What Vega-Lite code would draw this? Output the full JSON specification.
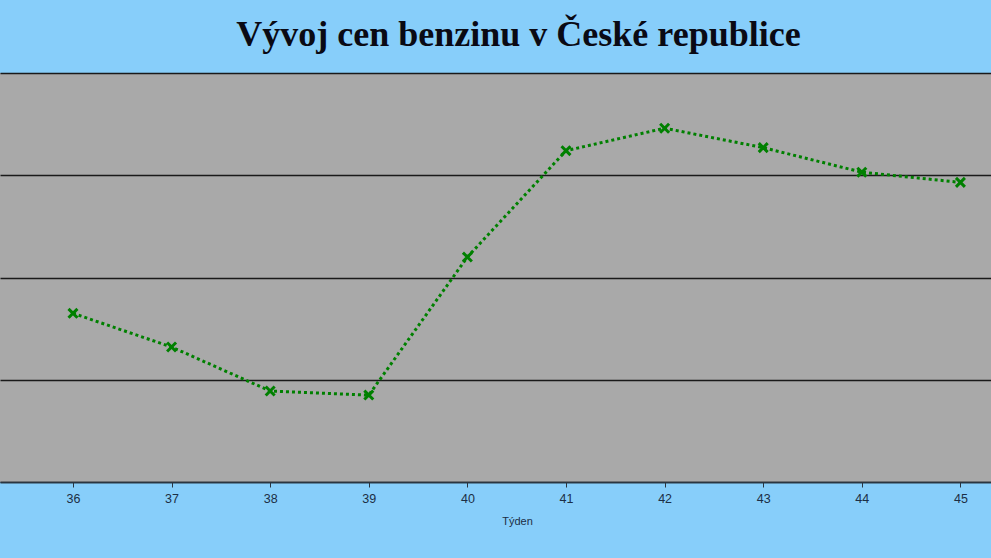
{
  "$schema": "https://vega.github.io/schema/vega-lite/v6.json",
  "autosize": "none",
  "width": 991,
  "height": 409,
  "padding": {"top": 73, "left": 0, "right": 0, "bottom": 76},
  "background": "#87CEFA",
  "title": {
    "text": "Vývoj cen benzinu v České republice",
    "font": "Liberation Serif",
    "fontSize": 36,
    "fontWeight": "bold",
    "color": "#0a0a14",
    "anchor": "middle",
    "baseline": "bottom",
    "offset": -17,
    "dx": 23
  },
  "config": {
    "view": {"fill": "#A9A9A9", "stroke": null}
  },
  "data": {
    "values": [
      {"tyden": 36, "cena": 41.65},
      {"tyden": 37, "cena": 41.32},
      {"tyden": 38, "cena": 40.89},
      {"tyden": 39, "cena": 40.85},
      {"tyden": 40, "cena": 42.2},
      {"tyden": 41, "cena": 43.24},
      {"tyden": 42, "cena": 43.46},
      {"tyden": 43, "cena": 43.27},
      {"tyden": 44, "cena": 43.03},
      {"tyden": 45, "cena": 42.93}
    ]
  },
  "encoding": {
    "x": {
      "field": "tyden",
      "type": "quantitative",
      "title": "Týden",
      "scale": {"domain": [35.26, 45.31], "nice": false, "zero": false},
      "axis": {
        "values": [36, 37, 38, 39, 40, 41, 42, 43, 44, 45],
        "format": "d",
        "grid": false,
        "domainColor": "#2a3540",
        "domainWidth": 1.5,
        "tickColor": "#2a3540",
        "tickSize": 5,
        "labelFont": "Liberation Sans",
        "labelFontSize": 12.5,
        "labelColor": "#1c2e45",
        "labelPadding": 5,
        "titleFont": "Liberation Sans",
        "titleFontSize": 11,
        "titleFontWeight": "normal",
        "titleColor": "#1c2e45",
        "titlePadding": 11,
        "titleX": 517
      }
    },
    "y": {
      "field": "cena",
      "type": "quantitative",
      "title": null,
      "scale": {"domain": [40, 44], "nice": false, "zero": false},
      "axis": {
        "values": [40, 41, 42, 43, 44],
        "labels": false,
        "ticks": false,
        "domain": false,
        "grid": true,
        "gridColor": "#1a1a1a",
        "gridWidth": 1.3,
        "gridOpacity": 1
      }
    }
  },
  "layer": [
    {
      "mark": {
        "type": "line",
        "color": "#008000",
        "strokeWidth": 3,
        "strokeDash": [3, 3]
      }
    },
    {
      "mark": {
        "type": "point",
        "shape": "M-1,-1L1,1M-1,1L1,-1",
        "filled": false,
        "stroke": "#008000",
        "strokeWidth": 3,
        "size": 80,
        "opacity": 1
      }
    }
  ]
}
